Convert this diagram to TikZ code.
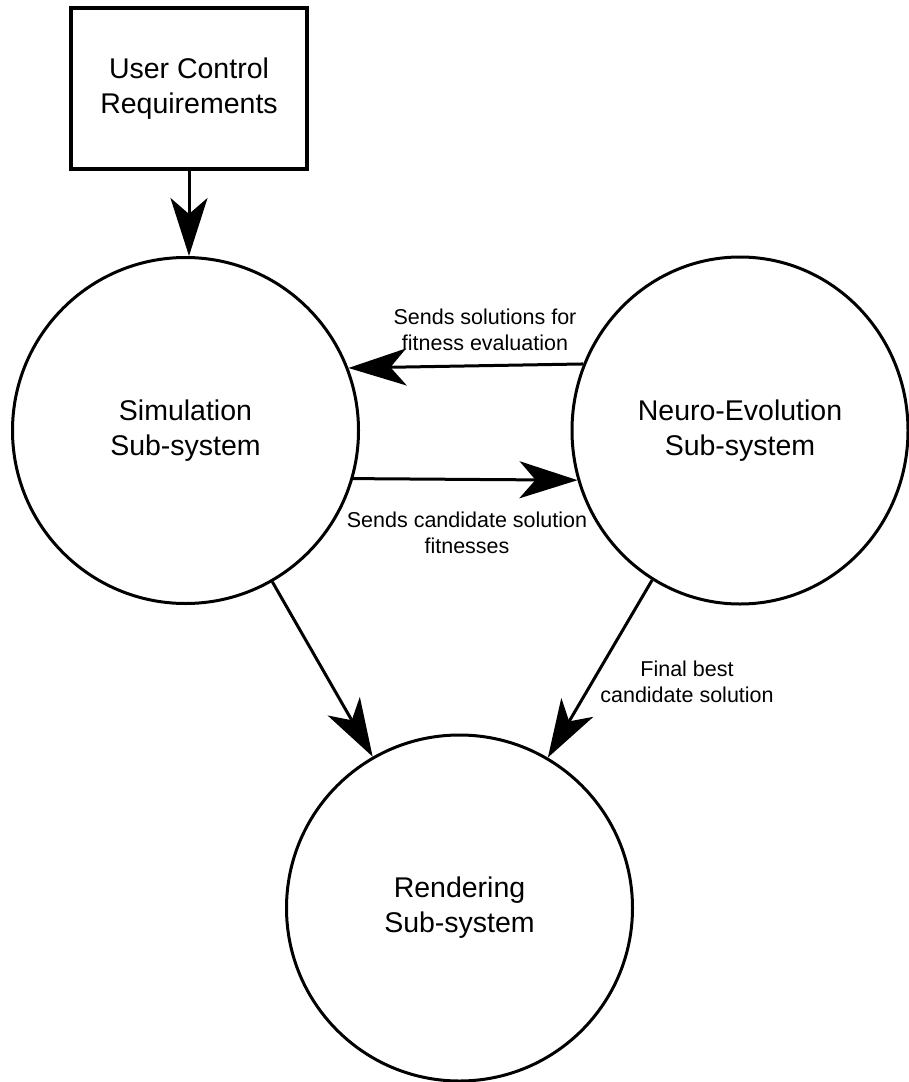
\documentclass[tikz,border=0pt]{standalone}
\usepackage{fontspec}
\setmainfont{Liberation Sans}
\usetikzlibrary{arrows.meta,shapes.geometric}

\begin{document}
\begin{tikzpicture}[x=1pt,y=-1pt,
  every node/.style={inner sep=0pt, text=black},
  sysbox/.style={draw, rectangle, line width=3.5pt, minimum width=236pt,
    minimum height=161pt, align=center, font=\fontsize{28.5}{35}\selectfont},
  subsys/.style={draw, circle, line width=3pt, minimum size=346pt,
    align=center, font=\fontsize{28.5}{35}\selectfont},
  subsysoval/.style={draw, ellipse, line width=3pt, minimum width=336pt,
    minimum height=347pt, align=center, font=\fontsize{28.5}{35}\selectfont},
  edgelabel/.style={align=center, font=\fontsize{21.5}{26}\selectfont},
  flow/.style={line width=3pt, -{Stealth[length=58pt,width=37pt,inset=16pt]}}
]
\useasboundingbox (0,0) rectangle (909,1082);

% subsystems and input
\node[sysbox] (req) at (189,88.5) {User Control\\Requirements};
\node[subsys] (sim) at (185.5,430.5) {Simulation\\Sub-system};
\node[subsysoval] (neuro) at (740,430.5) {Neuro-Evolution\\Sub-system};
\node[subsys] (rend) at (459.5,908) {Rendering\\Sub-system};

% data flows
\draw[flow] (req.south) -- (req.south |- sim.north);
\draw[flow] (neuro.157.9) -- (sim.21.5);
\draw[flow] (sim.-16.3) -- (neuro.-163.3);
\draw[flow] (sim) -- (rend);
\draw[flow] (neuro) -- (rend);

% flow labels
\node[edgelabel] (lsend) at (485,330) {Sends solutions for\\fitness evaluation};
\node[edgelabel] (lfit) at (467,533) {Sends candidate solution\\fitnesses};
\node[edgelabel] (lbest) at (687,682) {Final best\\candidate solution};
\end{tikzpicture}
\end{document}
